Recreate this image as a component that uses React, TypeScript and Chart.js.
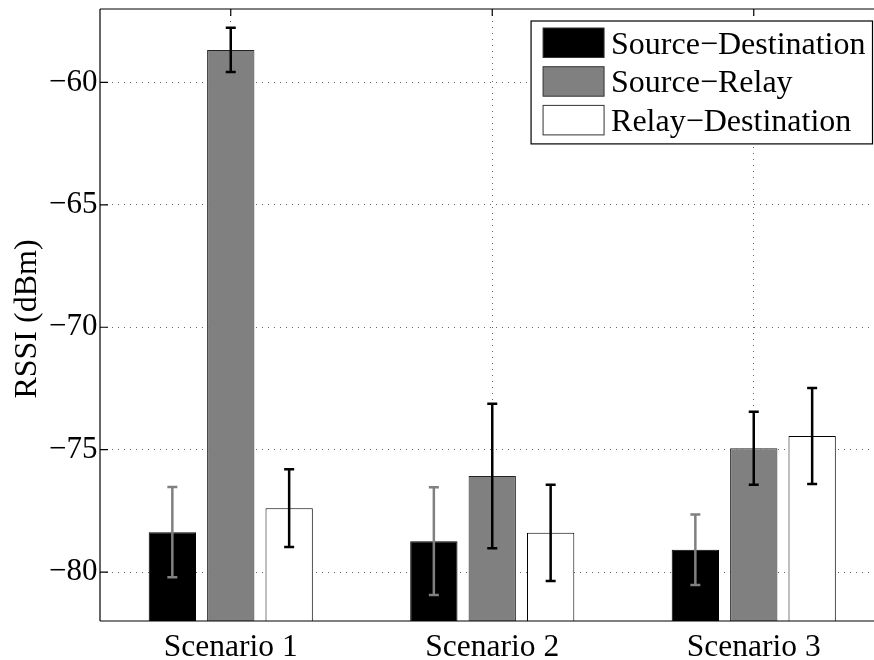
import React, { useEffect, useRef } from "react";
import { Chart, registerables } from "chart.js";

Chart.register(...registerables);

// Scenarios on the x axis
const categories = ["Scenario 1", "Scenario 2", "Scenario 3"];

// Mean RSSI per link (dBm)
const sourceDestination = [-78.37, -78.74, -79.09];
const sourceRelay = [-58.67, -76.08, -74.94];
const relayDestination = [-77.39, -78.4, -74.44];

// Standard deviation per link (dBm)
const sourceDestinationErr = [1.84, 2.2, 1.44];
const sourceRelayErr = [0.9, 2.95, 1.49];
const relayDestinationErr = [1.59, 1.97, 1.96];

const seriesLabels = ["Source\u2212Destination", "Source\u2212Relay", "Relay\u2212Destination"];

// Value axis
const yMin = -82;
const yMax = -57;
const yTickValues = [-80, -75, -70, -65, -60];
const yTitle = "RSSI (dBm)";

const SERIF = '"Liberation Serif", "Times New Roman", serif';

const errorBarPlugin = {
  id: "errorBars",
  afterDatasetsDraw(chart: any) {
    const { ctx } = chart;
    const yScale = chart.scales.y;
    chart.data.datasets.forEach((ds: any, i: number) => {
      const meta = chart.getDatasetMeta(i);
      ctx.save();
      ctx.strokeStyle = ds.errorColor;
      ctx.lineWidth = 2.5;
      meta.data.forEach((el: any, j: number) => {
        const v = ds.data[j];
        const e = ds.errors[j];
        const top = yScale.getPixelForValue(v + e);
        const bot = yScale.getPixelForValue(v - e);
        const x = el.x;
        const cap = 5;
        ctx.beginPath();
        ctx.moveTo(x, top);
        ctx.lineTo(x, bot);
        ctx.moveTo(x - cap, top);
        ctx.lineTo(x + cap, top);
        ctx.moveTo(x - cap, bot);
        ctx.lineTo(x + cap, bot);
        ctx.stroke();
      });
      ctx.restore();
    });
  },
};

const framePlugin = {
  id: "frame",
  afterDatasetsDraw(chart: any) {
    const { ctx, chartArea } = chart;
    const { left, right, top, bottom } = chartArea;
    const yScale = chart.scales.y;
    const xScale = chart.scales.x;
    ctx.save();
    ctx.strokeStyle = "#000";
    ctx.lineWidth = 1.2;
    ctx.beginPath();
    ctx.moveTo(left, top);
    ctx.lineTo(right, top);
    ctx.moveTo(left, top);
    ctx.lineTo(left, bottom);
    ctx.moveTo(left, bottom);
    ctx.lineTo(right, bottom);
    // inward tick marks on the value axis
    yTickValues.forEach((v) => {
      const y = yScale.getPixelForValue(v);
      ctx.moveTo(left, y);
      ctx.lineTo(left + 8, y);
    });
    // inward tick marks along the top edge
    categories.forEach((_, i) => {
      const x = xScale.getPixelForValue(i);
      ctx.moveTo(x, top);
      ctx.lineTo(x, top + 7);
    });
    ctx.stroke();

    // axis title
    ctx.fillStyle = "#000";
    ctx.font = `32px ${SERIF}`;
    ctx.textAlign = "center";
    ctx.textBaseline = "alphabetic";
    ctx.translate(35.7, 319);
    ctx.rotate(-Math.PI / 2);
    ctx.fillText(yTitle, 0, 0);
    ctx.restore();
  },
};

const legendPlugin = {
  id: "insetLegend",
  afterDraw(chart: any) {
    const { ctx, chartArea } = chart;
    const datasets = chart.data.datasets;
    ctx.save();
    ctx.font = `32px ${SERIF}`;
    const textW = Math.max(...datasets.map((d: any) => ctx.measureText(d.label).width));
    const padL = 12;
    const swW = 61;
    const swH = 29.5;
    const gap = 7;
    const padR = 7;
    const padT = 7;
    const pitch = 38.7;
    const boxW = padL + swW + gap + textW + padR;
    const boxH = padT + pitch * (datasets.length - 1) + swH + 9;
    const boxRight = chartArea.right - 12;
    const boxLeft = boxRight - boxW;
    const boxTop = chartArea.top + 12;
    ctx.fillStyle = "#fff";
    ctx.fillRect(boxLeft, boxTop, boxW, boxH);
    ctx.strokeStyle = "#000";
    ctx.lineWidth = 1.2;
    ctx.strokeRect(boxLeft, boxTop, boxW, boxH);
    datasets.forEach((d: any, i: number) => {
      const sy = boxTop + padT + i * pitch;
      const sx = boxLeft + padL;
      ctx.fillStyle = d.backgroundColor;
      ctx.fillRect(sx, sy, swW, swH);
      ctx.strokeStyle = "#333";
      ctx.lineWidth = 1;
      ctx.strokeRect(sx, sy, swW, swH);
      ctx.fillStyle = "#000";
      ctx.textAlign = "left";
      ctx.textBaseline = "middle";
      ctx.fillText(d.label, sx + swW + gap, sy + swH / 2 + 2.5);
    });
    ctx.restore();
  },
};

export default function App() {
  const canvasRef = useRef<HTMLCanvasElement | null>(null);

  useEffect(() => {
    if (!canvasRef.current) return;
    const gridColor = "rgba(0,0,0,0.6)";
    const chart = new Chart(canvasRef.current, {
      type: "bar",
      data: {
        labels: categories,
        datasets: [
          {
            label: seriesLabels[0],
            data: sourceDestination,
            errors: sourceDestinationErr,
            errorColor: "#808080",
            backgroundColor: "#000000",
            borderColor: "#000000",
            borderWidth: 1,
            base: yMin,
          } as any,
          {
            label: seriesLabels[1],
            data: sourceRelay,
            errors: sourceRelayErr,
            errorColor: "#000000",
            backgroundColor: "#808080",
            borderColor: "#222222",
            borderWidth: 1,
            base: yMin,
          } as any,
          {
            label: seriesLabels[2],
            data: relayDestination,
            errors: relayDestinationErr,
            errorColor: "#000000",
            backgroundColor: "#ffffff",
            borderColor: "#000000",
            borderWidth: 1,
            base: yMin,
          } as any,
        ],
      },
      options: {
        responsive: false,
        animation: false,
        events: [],
        categoryPercentage: 0.67,
        barPercentage: 0.81,
        layout: { padding: { top: 9, right: 5.5, left: 0, bottom: 0 } },
        plugins: {
          legend: { display: false },
          tooltip: { enabled: false },
        },
        scales: {
          x: {
            offset: true,
            grid: {
              offset: false,
              color: gridColor,
              lineWidth: 1,
              drawTicks: false,
            },
            border: { display: false, dash: [1, 5] },
            ticks: {
              color: "#000",
              padding: 8,
              font: { family: SERIF, size: 31.5 },
            },
            afterFit: (scale: any) => {
              scale.height = 39;
            },
          },
          y: {
            min: yMin,
            max: yMax,
            grid: {
              color: gridColor,
              lineWidth: 1,
              drawTicks: false,
            },
            border: { display: false, dash: [1, 5] },
            afterBuildTicks: (scale: any) => {
              scale.ticks = yTickValues.map((v) => ({ value: v }));
            },
            ticks: {
              color: "#000",
              padding: 2.5,
              font: { family: SERIF, size: 31 },
              callback: (v: any) => (v < 0 ? "\u2212" + Math.abs(v) : String(v)),
            },
            afterFit: (scale: any) => {
              scale.width = 100;
              scale.paddingTop = 0;
              scale.paddingBottom = 0;
            },
          },
        },
      } as any,
      plugins: [errorBarPlugin, framePlugin, legendPlugin],
    });
    return () => chart.destroy();
  }, []);

  return (
    <div
      style={{
        position: "fixed",
        left: 0,
        top: 0,
        width: 874,
        height: 660,
        overflow: "hidden",
        background: "#fff",
      }}
    >
      <canvas ref={canvasRef} width={890} height={660} style={{ display: "block" }} />
    </div>
  );
}
